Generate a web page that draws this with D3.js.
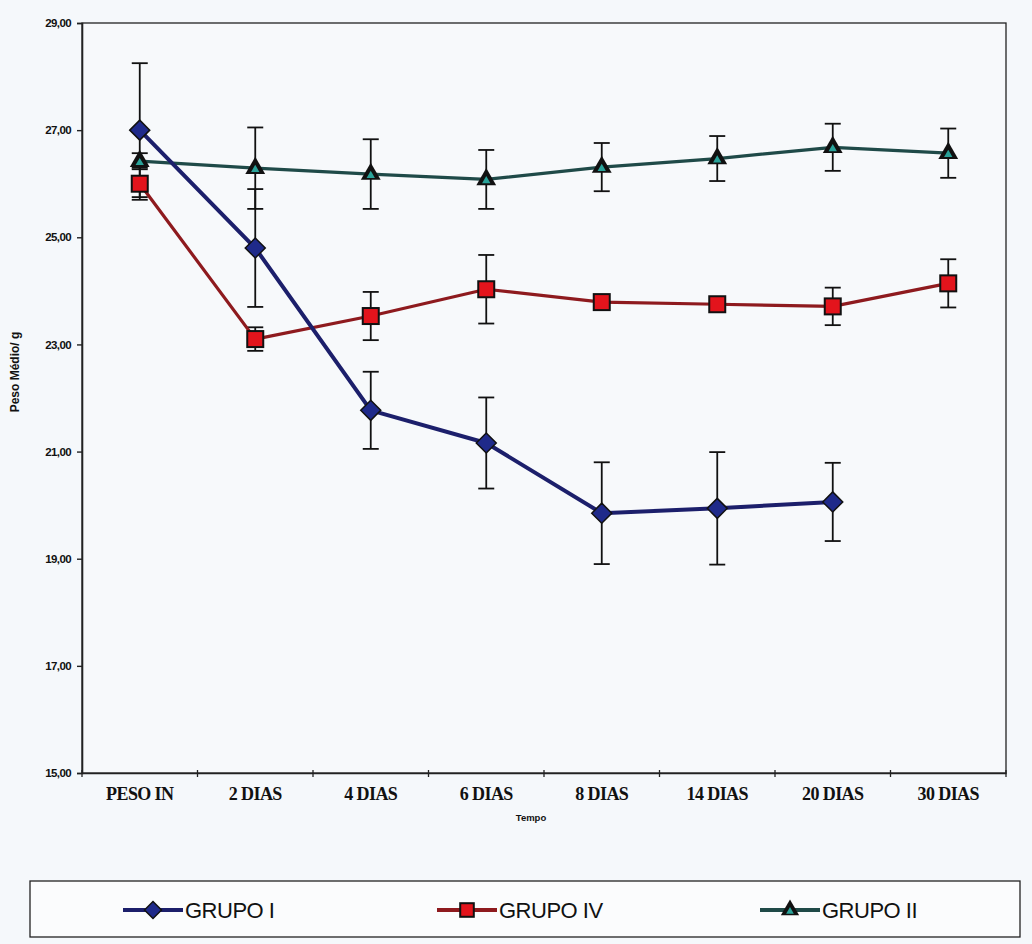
<!DOCTYPE html>
<html><head><meta charset="utf-8">
<script src="https://cdn.jsdelivr.net/npm/d3@7"></script>
<style>html,body{margin:0;padding:0;background:#f5f8fb;}svg{display:block;}</style>
</head><body>
<svg id="c" width="1032" height="944"></svg>
<script>
const categories = ["PESO IN","2 DIAS","4 DIAS","6 DIAS","8 DIAS","14 DIAS","20 DIAS","30 DIAS"];
const yTicks = [15,17,19,21,23,25,27,29];
const grupo1 = [27.0, 24.8, 21.77, 21.16, 19.85, 19.94, 20.06, null];
const grupo1Err = [1.25, 1.1, 0.72, 0.85, 0.95, 1.05, 0.73, null];
const grupo4 = [26.0, 23.1, 23.53, 24.03, 23.79, 23.75, 23.71, 24.14];
const grupo4Err = [0.3, 0.22, 0.45, 0.64, 0.12, 0.12, 0.35, 0.45];
const grupo2 = [26.42, 26.29, 26.18, 26.08, 26.31, 26.47, 26.68, 26.57];
const grupo2Err = [0.15, 0.76, 0.65, 0.55, 0.45, 0.42, 0.44, 0.46];
const seriesNames = ["GRUPO I","GRUPO IV","GRUPO II"];

const svg = d3.select("#c");
const L = 82, R = 1006, T = 23, B = 773;
const x = d3.scaleBand().domain(categories).range([L, R]);
const y = d3.scaleLinear().domain([15, 29]).range([B, T]);

svg.append("rect").attr("x", L).attr("y", T).attr("width", R - L).attr("height", B - T)
  .attr("fill", "#f7f9fb").attr("stroke", "#222").attr("stroke-width", 1.3);

const yAxis = svg.append("g").attr("transform", `translate(${L},0)`)
  .call(d3.axisLeft(y).tickValues(yTicks).tickSize(5).tickPadding(6)
    .tickFormat(d => d3.format(".2f")(d).replace(".", ",")));
yAxis.select(".domain").attr("stroke", "#222").attr("stroke-width", 1.6);
yAxis.selectAll("line").attr("stroke", "#222").attr("stroke-width", 1.4);
yAxis.selectAll("text").attr("font-family", "Liberation Sans, Arial, sans-serif")
  .attr("font-weight", "bold").attr("font-size", 11.5).attr("fill", "#111")
  .style("letter-spacing", "-0.6px");

const xAxis = svg.append("g").attr("transform", `translate(0,${B})`)
  .call(d3.axisBottom(x).tickSize(0).tickPadding(14));
xAxis.select(".domain").attr("stroke", "#222").attr("stroke-width", 1.6);
xAxis.selectAll("text").attr("font-family", "Liberation Serif, Times New Roman, serif")
  .attr("font-weight", "bold").attr("font-size", 18).attr("fill", "#111")
  .style("letter-spacing", "-0.6px");
const bounds = categories.map(c => x(c)).concat([R]);
svg.append("g").selectAll("line").data(bounds).join("line")
  .attr("x1", d => d).attr("x2", d => d).attr("y1", B - 3).attr("y2", B + 4)
  .attr("stroke", "#222").attr("stroke-width", 1.3);

svg.append("text").attr("x", 531).attr("y", 821).attr("text-anchor", "middle")
  .attr("font-family", "Liberation Sans, Arial, sans-serif").attr("font-weight", "bold")
  .attr("font-size", 9.5).attr("fill", "#111").text("Tempo");
svg.append("text").attr("transform", "translate(19,372) rotate(-90)").attr("text-anchor", "middle")
  .attr("font-family", "Liberation Sans, Arial, sans-serif").attr("font-weight", "bold")
  .attr("font-size", 12).attr("fill", "#111").text("Peso Médio/ g");

const cx = c => x(c) + x.bandwidth() / 2;

const series = [
  {name: seriesNames[0], vals: grupo1, errs: grupo1Err, line: "#1c1f6b", fill: "#1f2a8a", shape: "diamond"},
  {name: seriesNames[1], vals: grupo4, errs: grupo4Err, line: "#8e1a1e", fill: "#e3141c", shape: "square"},
  {name: seriesNames[2], vals: grupo2, errs: grupo2Err, line: "#1f4a48", fill: "#2aa39a", shape: "triangle"}
];

function marker(g, shape, fill, s) {
  if (shape === "diamond") {
    const w = 10 * s, h = 10 * s;
    g.append("path").attr("d", `M${-w},0L0,${-h}L${w},0L0,${h}Z`).attr("fill", fill)
      .attr("stroke", "#111").attr("stroke-width", 1.5);
  } else if (shape === "square") {
    const w = 16 * s;
    g.append("rect").attr("x", -w/2).attr("y", -w/2).attr("width", w).attr("height", w)
      .attr("fill", fill).attr("stroke", "#111").attr("stroke-width", 2);
  } else {
    g.append("path").attr("d", d3.symbol(d3.symbolTriangle, 170 * s)()).attr("fill", "#111");
    g.append("path").attr("d", d3.symbol(d3.symbolTriangle, 30 * s)()).attr("fill", fill)
      .attr("transform", "translate(0,1.5)");
  }
}

const drawOrder = [2, 1, 0];
series.forEach(s => {
  const g = svg.append("g");
  categories.forEach((c, i) => {
    if (s.vals[i] == null || s.errs[i] == null) return;
    const X = cx(c), y1 = y(s.vals[i] + s.errs[i]), y2 = y(s.vals[i] - s.errs[i]);
    g.append("line").attr("x1", X).attr("x2", X).attr("y1", y1).attr("y2", y2)
      .attr("stroke", "#111").attr("stroke-width", 1.8);
    [y1, y2].forEach(yy => g.append("line").attr("x1", X - 8).attr("x2", X + 8)
      .attr("y1", yy).attr("y2", yy).attr("stroke", "#111").attr("stroke-width", 1.8));
  });
});
drawOrder.forEach(k => {
  const s = series[k];
  const line = d3.line().defined(d => d.v != null).x(d => cx(d.c)).y(d => y(d.v));
  const data = categories.map((c, i) => ({c, v: s.vals[i]}));
  svg.append("path").datum(data).attr("d", line).attr("fill", "none")
    .attr("stroke", s.line).attr("stroke-width", k === 0 ? 4 : 3.2).attr("stroke-linejoin", "round");
});
drawOrder.forEach(k => {
  const s = series[k];
  categories.forEach((c, i) => {
    if (s.vals[i] == null) return;
    const g = svg.append("g").attr("transform", `translate(${cx(c)},${y(s.vals[i])})`);
    marker(g, s.shape, s.fill, 1);
  });
});

const lg = svg.append("g");
lg.append("rect").attr("x", 30).attr("y", 881).attr("width", 990).attr("height", 56)
  .attr("fill", "#fbfcfd").attr("stroke", "#222").attr("stroke-width", 1.3);
const legendX = [123, 437, 760];
series.forEach((s, k) => {
  const gx = legendX[k], gy = 910;
  lg.append("line").attr("x1", gx).attr("x2", gx + 60).attr("y1", gy).attr("y2", gy)
    .attr("stroke", s.line).attr("stroke-width", 4);
  const m = lg.append("g").attr("transform", `translate(${gx + 30},${gy})`);
  marker(m, s.shape, s.fill, 0.85);
  lg.append("text").attr("x", gx + 62).attr("y", gy + 8)
    .attr("font-family", "Liberation Sans, Arial, sans-serif").attr("font-size", 22)
    .attr("fill", "#111").style("letter-spacing", "-0.5px").text(s.name);
});
</script>
</body></html>
